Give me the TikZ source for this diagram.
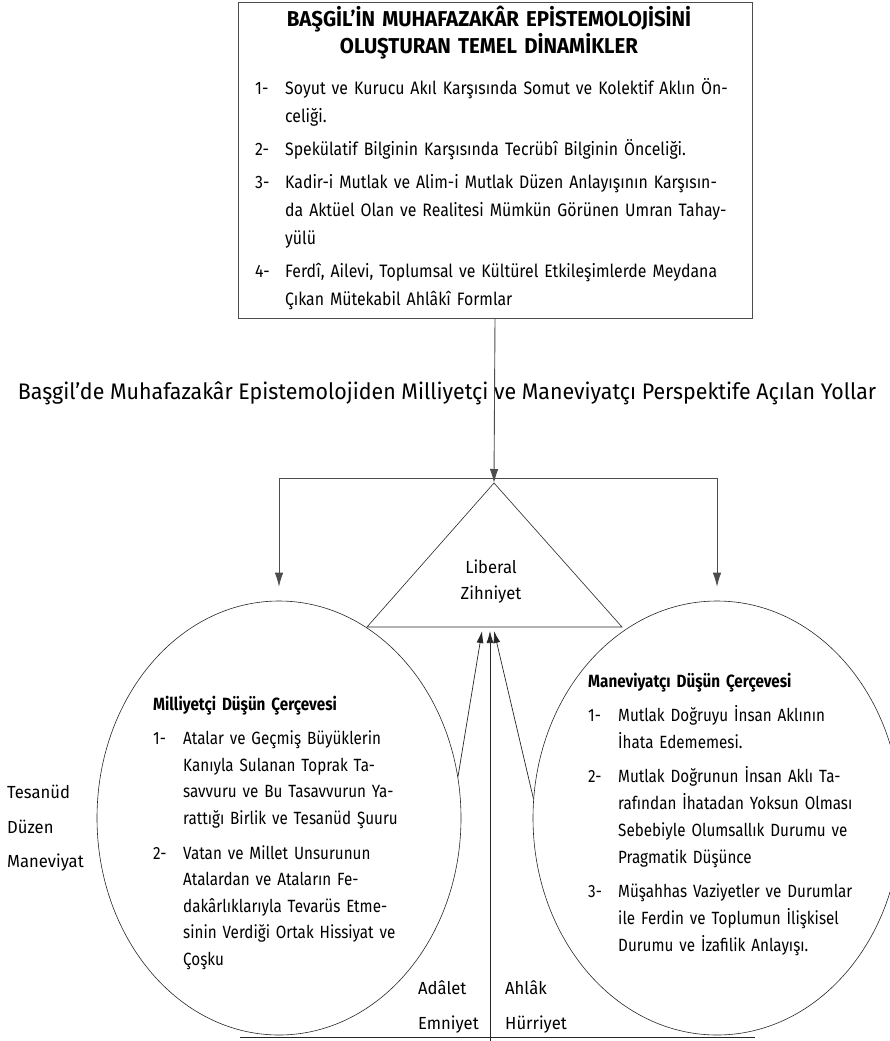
\documentclass[tikz,border=0pt]{standalone}
\usepackage{fontspec}
\setmainfont{Fira Sans}[FakeStretch=0.95]
\newfontfamily\boxfont{Fira Sans}[FakeStretch=0.88]
\newfontfamily\condfont{Fira Sans}[FakeStretch=0.86]
\usetikzlibrary{arrows.meta,positioning,shapes.geometric}

\newlength{\colw}
\newcommand{\jl}[1]{\makebox[\colw][s]{#1}}
\newcommand{\lastl}[1]{\makebox[\colw][l]{#1}}
\newcommand{\nr}[1]{\makebox[30pt][l]{#1}}

\tikzset{
  shapeline/.style={draw=black!85,line width=0.6pt},
  link/.style={-{Latex[length=14pt,width=8.5pt]},draw=black!70,line width=0.9pt},
  uplink/.style={-{Latex[length=12pt,width=7pt]},draw=black!85,line width=0.7pt},
  itemtext/.style={anchor=mid west,text width=#1,inner sep=0pt,align=left},
  bodyfont/.style={font=\fontsize{17.5}{#1}\selectfont}
}

\begin{document}
\begin{tikzpicture}[x=1pt,y=-1pt]
\useasboundingbox (0,0) rectangle (890,1041);

% dinamikler kutusu
\node[shapeline,draw=black!70,line width=0.8pt,minimum width=514pt,minimum height=316pt,inner sep=0pt] (dyn) at (495,160) {};
\node[anchor=mid,text width=500pt,align=center,inner sep=0pt,font=\fontsize{21.5}{27}\selectfont\bfseries] (dyntitle) at (489,24)
  {BAŞGİL’İN MUHAFAZAKÂR EPİSTEMOLOJİSİNİ\\OLUŞTURAN TEMEL DİNAMİKLER};
\node[itemtext=470pt,font=\boxfont\fontsize{18}{28}\selectfont] (dynlist) at (255,92) {\setlength{\colw}{432pt}%
  \nr{1-}\jl{Soyut ve Kurucu Akıl Karşısında Somut ve Kolektif Aklın Ön-}\\
  \nr{}\lastl{celiği.}\\[5pt]
  \nr{2-}\lastl{Spekülatif Bilginin Karşısında Tecrübî Bilginin Önceliği.}\\[5pt]
  \nr{3-}\jl{Kadir-i Mutlak ve Alim-i Mutlak Düzen Anlayışının Karşısın-}\\
  \nr{}\jl{da Aktüel Olan ve Realitesi Mümkün Görünen Umran Tahay-}\\
  \nr{}\lastl{yülü}\\[5pt]
  \nr{4-}\jl{Ferdî, Ailevi, Toplumsal ve Kültürel Etkileşimlerde Meydana}\\
  \nr{}\lastl{Çıkan Mütekabil Ahlâkî Formlar}};

% ara baslik
\node[anchor=mid,inner sep=0pt,font=\fontsize{22.5}{28}\selectfont] (roads) at (447,397)
  {Başgil’de Muhafazakâr Epistemolojiden Milliyetçi ve Maneviyatçı Perspektife Açılan Yollar};

% liberal zihniyet
\coordinate (apex) at (494,483);
\coordinate (bl) at (367,627);
\coordinate (br) at (622,627);
\draw[shapeline] (apex) -- (bl) -- (br) -- cycle;
\node[anchor=mid,text width=100pt,align=center,inner sep=0pt,bodyfont=26] (lib) at (491,571) {Liberal\\Zihniyet};

% iki cerceve
\node[ellipse,shapeline,minimum width=364pt,minimum height=434pt,inner sep=0pt] (milli) at (279,818) {};
\node[ellipse,shapeline,minimum width=368pt,minimum height=434pt,inner sep=0pt] (manev) at (717,818) {};

\node[itemtext=250pt,font=\condfont\fontsize{17.7}{26.6}\selectfont] (millilist) at (153,708) {\setlength{\colw}{217pt}%
  \textbf{Milliyetçi Düşün Çerçevesi}\\[7.4pt]
  \nr{1-}\jl{Atalar ve Geçmiş Büyüklerin}\\
  \nr{}\jl{Kanıyla Sulanan Toprak Ta-}\\
  \nr{}\jl{savvuru ve Bu Tasavvurun Ya-}\\
  \nr{}\jl{rattığı Birlik ve Tesanüd Şuuru}\\[8pt]
  \nr{2-}\jl{Vatan ve Millet Unsurunun}\\
  \nr{}\jl{Atalardan ve Ataların Fe-}\\
  \nr{}\jl{dakârlıklarıyla Tevarüs Etme-}\\
  \nr{}\jl{sinin Verdiği Ortak Hissiyat ve}\\
  \nr{}\lastl{Çoşku}};

\node[itemtext=272pt,font=\condfont\fontsize{17.7}{27}\selectfont] (manevlist) at (588,685) {\setlength{\colw}{239pt}%
  \textbf{Maneviyatçı Düşün Çerçevesi}\\[7pt]
  \nr{1-}\jl{Mutlak Doğruyu İnsan Aklının}\\
  \nr{}\lastl{İhata Edememesi.}\\[7pt]
  \nr{2-}\jl{Mutlak Doğrunun İnsan Aklı Ta-}\\
  \nr{}\jl{rafından İhatadan Yoksun Olması}\\
  \nr{}\jl{Sebebiyle Olumsallık Durumu ve}\\
  \nr{}\lastl{Pragmatik Düşünce}\\[7pt]
  \nr{3-}\jl{Müşahhas Vaziyetler ve Durumlar}\\
  \nr{}\jl{ile Ferdin ve Toplumun İlişkisel}\\
  \nr{}\lastl{Durumu ve İzafilik Anlayışı.}};

% degerler
\node[itemtext=90pt,bodyfont=34.5] (values) at (7,796) {Tesanüd\\Düzen\\Maneviyat};
\node[itemtext=70pt,bodyfont=35] (leftval) at (418,992) {Adâlet\\Emniyet};
\node[itemtext=70pt,bodyfont=35] (rightval) at (505,992) {Ahlâk\\Hürriyet};

% baglantilar
\coordinate (fork) at (494,478);
\coordinate (tipL) at (482,631);
\coordinate (tipM) at (490,631);
\coordinate (tipR) at (494,631);
\coordinate (foot) at (490,1041);
\coordinate (gl) at (240,1037);
\coordinate (gr) at (755,1037);
\draw[link] (dyn.south) -- (apex);
\draw[link] (fork) -| ([yshift=14pt]milli.north);
\draw[link] (fork) -| ([yshift=14pt]manev.north);
\draw[uplink] (milli.13) -- (tipL);
\draw[uplink] (foot) -- (tipM);
\draw[uplink] (manev.174) -- (tipR);
\draw[shapeline] (gl) -- (gr);
\end{tikzpicture}
\end{document}
